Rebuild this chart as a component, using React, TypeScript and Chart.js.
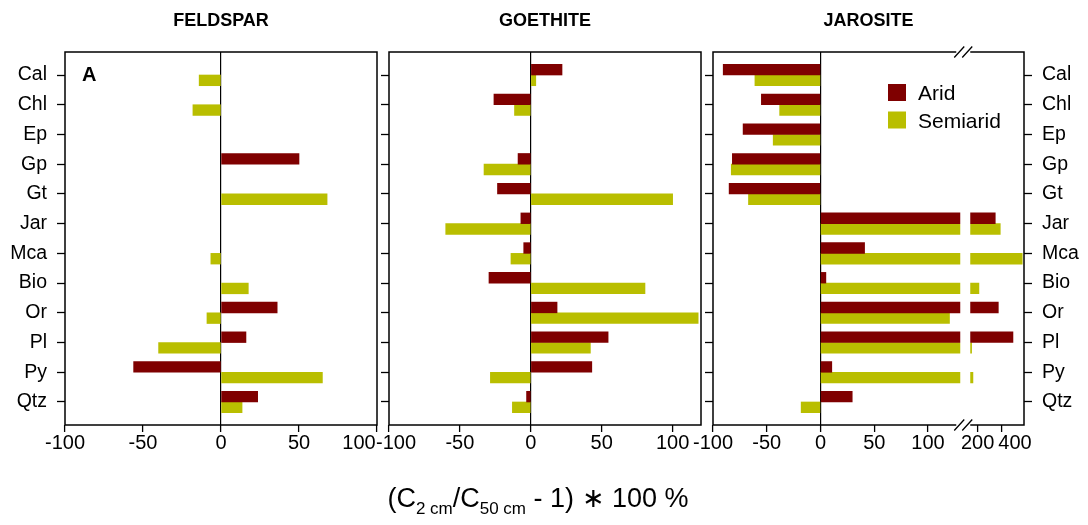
import React, { useEffect, useRef } from 'react';
import { Chart, registerables, LinearScale } from 'chart.js';

Chart.register(...registerables);

// ---------------- data ----------------
const minerals = ['Cal', 'Chl', 'Ep', 'Gp', 'Gt', 'Jar', 'Mca', 'Bio', 'Or', 'Pl', 'Py', 'Qtz'];
const seriesNames = ['Arid', 'Semiarid'];
const panelTitles = ['FELDSPAR', 'GOETHITE', 'JAROSITE'];

const feldsparArid: (number | null)[] = [null, null, null, 50, null, null, null, null, 36, 16, -56, 23.5];
const feldsparSemiarid: (number | null)[] = [-14, -18, null, null, 68, null, -6.5, 17.5, -9, -40, 65, 13.5];
const goethiteArid: (number | null)[] = [22, -26, null, -9, -23.5, -7, -5, -29.5, 18.5, 54.5, 43, -3];
const goethiteSemiarid: (number | null)[] = [3.5, -11.5, null, -33, 100, -60, -14, 80.5, 118, 42, -28.5, -13];
const jarositeArid: (number | null)[] = [-90.5, -55, -72, -82, -85, 345, 41, 5, 370, 490, 10.5, 29.5];
const jarositeSemiarid: (number | null)[] = [-61, -38, -44, -83, -67, 386, 566, 211, 120, 151, 162, -18];

const xTicksLinear = [-100, -50, 0, 50, 100];
const xTicksBroken = [-100, -50, 0, 50, 100, 200, 400];

// ---------------- styling ----------------
const ARID_COLOR = '#7F0000';
const SEMI_COLOR = '#B9BE00';
const FONT = 'Liberation Sans, Arial, Helvetica, sans-serif';
Chart.defaults.font.family = FONT;
Chart.defaults.color = '#000';

const Y_MIN = -0.774;
const Y_MAX = 11.774;

// broken axis: values up to BREAK_LO drawn linearly, gap, then compressed segment
const BREAK_LO = 130;
const BREAK_HI = 140;
const GAP_UNITS = 9.3;
const RIGHT_SCALE = 0.1135;

function fwd(v: number): number {
  if (v === null || v === undefined) return v as any;
  if (v <= BREAK_LO) return v;
  if (v >= BREAK_HI) return BREAK_LO + GAP_UNITS + (v - BREAK_HI) * RIGHT_SCALE;
  return BREAK_LO + ((v - BREAK_LO) / (BREAK_HI - BREAK_LO)) * GAP_UNITS;
}
function inv(d: number): number {
  if (d <= BREAK_LO) return d;
  if (d >= BREAK_LO + GAP_UNITS) return BREAK_HI + (d - BREAK_LO - GAP_UNITS) / RIGHT_SCALE;
  return BREAK_LO + ((d - BREAK_LO) / GAP_UNITS) * (BREAK_HI - BREAK_LO);
}

class BrokenScale extends LinearScale {
  static id = 'broken';
  getPixelForValue(value: number) {
    return super.getPixelForValue(fwd(value));
  }
  getValueForPixel(pixel: number) {
    return inv(super.getValueForPixel(pixel) as number);
  }
}
Chart.register(BrokenScale as any);

const TICK_FONT_SIZE = 20;
const TICK_PAD = -1;
const TICK_LEN = 7;

// ---------------- decoration plugin ----------------
const decorPlugin = {
  id: 'decor',
  afterDatasetsDraw(chart: any, _args: any, opts: any) {
    if (opts.gap) {
      const { ctx, chartArea } = chart;
      const xs = chart.scales.x;
      const x1 = xs.getPixelForValue(BREAK_LO);
      const x2 = xs.getPixelForValue(BREAK_HI);
      ctx.save();
      ctx.fillStyle = '#fff';
      ctx.fillRect(x1, chartArea.top + 1, x2 - x1, chartArea.bottom - chartArea.top - 2);
      ctx.restore();
    }
  },
  afterDraw(chart: any, _args: any, opts: any) {
    const { ctx, chartArea } = chart;
    const off = opts.offsetX || 0;
    const { left, right, top, bottom } = chartArea;
    const xs = chart.scales.x;
    ctx.save();
    // box
    ctx.strokeStyle = '#000';
    ctx.lineWidth = 1.5;
    ctx.strokeRect(left, top, right - left, bottom - top);

    // title
    if (opts.title) {
      ctx.fillStyle = '#000';
      ctx.font = `bold 18px ${FONT}`;
      ctx.textAlign = 'center';
      ctx.textBaseline = 'alphabetic';
      ctx.fillText(opts.title, (left + right) / 2, 26);
    }
    // panel letter
    if (opts.letter) {
      ctx.fillStyle = '#000';
      ctx.font = `bold 20px ${FONT}`;
      ctx.textAlign = 'left';
      ctx.textBaseline = 'alphabetic';
      ctx.fillText(opts.letter, 82 - off, 81);
    }
    // legend
    if (opts.legend) {
      ctx.font = `21px ${FONT}`;
      ctx.textAlign = 'left';
      ctx.textBaseline = 'alphabetic';
      chart.data.datasets.forEach((ds: any, i: number) => {
        const base = 100 + i * 27.5;
        ctx.fillStyle = ds.backgroundColor;
        ctx.fillRect(888 - off, base - 16, 18, 17);
        ctx.fillStyle = '#000';
        ctx.fillText(ds.label, 918 - off, base);
      });
    }
    // axis break marks
    if (opts.gap) {
      const cx = (xs.getPixelForValue(BREAK_LO) + xs.getPixelForValue(BREAK_HI)) / 2 - 2;
      [top, bottom].forEach((yy: number) => {
        ctx.fillStyle = '#fff';
        ctx.fillRect(cx - 7, yy - 2, 14, 4);
        ctx.strokeStyle = '#000';
        ctx.lineWidth = 1.3;
        ctx.beginPath();
        ctx.moveTo(cx - 9, yy + 5.5);
        ctx.lineTo(cx + 1, yy - 5.5);
        ctx.moveTo(cx - 1, yy + 5.5);
        ctx.lineTo(cx + 9, yy - 5.5);
        ctx.stroke();
      });
    }
    // tick labels that sit beside their tick (crowded spots)
    if (opts.shifted) {
      ctx.fillStyle = '#000';
      ctx.font = `${TICK_FONT_SIZE}px ${FONT}`;
      ctx.textAlign = 'center';
      ctx.textBaseline = 'middle';
      const ly = bottom + TICK_LEN + TICK_PAD + (TICK_FONT_SIZE * 1.2) / 2;
      opts.shifted.forEach((pair: number[]) => {
        ctx.fillText(String(pair[0]), xs.getPixelForValue(pair[0]) + pair[1], ly);
      });
    }
    // common x-axis title
    if (opts.axisTitle) {
      const main = `27px ${FONT}`;
      const sub = `17px ${FONT}`;
      const pieces: [string, string, number][] = [
        ['(C', main, 0],
        ['2 cm', sub, 7],
        ['/C', main, 0],
        ['50 cm', sub, 7],
        [' - 1) \u2217 100 %', main, 0],
      ];
      let total = 0;
      pieces.forEach(([t, f]) => {
        ctx.font = f;
        total += ctx.measureText(t).width;
      });
      let x = 538 - off - total / 2;
      ctx.fillStyle = '#000';
      ctx.textAlign = 'left';
      ctx.textBaseline = 'alphabetic';
      pieces.forEach(([t, f, dy]) => {
        ctx.font = f;
        ctx.fillText(t, x, 507 + dy);
        x += ctx.measureText(t).width;
      });
    }
    ctx.restore();
  },
};

// ---------------- config builder ----------------
function toPoints(arr: (number | null)[]) {
  const out: { x: number; y: number }[] = [];
  arr.forEach((v, i) => {
    if (v !== null) out.push({ x: v, y: i });
  });
  return out;
}

function yAxis(position: 'left' | 'right', width: number, showLabels: boolean) {
  return {
    type: 'linear',
    position,
    min: Y_MIN,
    max: Y_MAX,
    bounds: 'data',
    offset: false,
    reverse: true,
    afterBuildTicks: (s: any) => {
      s.ticks = minerals.map((_, i) => ({ value: i }));
    },
    afterFit: (s: any) => {
      s.width = width;
    },
    ticks: {
      display: showLabels,
      callback: (v: any) => minerals[v],
      font: { size: 19.5, family: FONT },
      color: '#000',
      padding: 10,
      autoSkip: false,
    },
    grid: {
      display: true,
      offset: false,
      drawOnChartArea: false,
      drawTicks: true,
      tickLength: 8,
      tickColor: '#000',
      tickWidth: 1.3,
    },
    border: { display: false },
  };
}

function makeConfig(p: any) {
  const shiftedValues: number[] = (p.decor.shifted || []).map((s: number[]) => s[0]);
  const scales: any = {
    x: {
      type: p.xType,
      min: p.xMin,
      max: p.xMax,
      bounds: 'data',
      offset: false,
      afterBuildTicks: (s: any) => {
        s.ticks = p.xTicks.map((v: number) => ({ value: v }));
      },
      afterFit: (s: any) => {
        s.height = 100;
      },
      ticks: {
        callback: (v: any) => (shiftedValues.indexOf(v) >= 0 ? '' : String(v)),
        font: { size: TICK_FONT_SIZE, family: FONT },
        color: '#000',
        padding: TICK_PAD,
        maxRotation: 0,
        minRotation: 0,
        autoSkip: false,
      },
      grid: {
        display: true,
        offset: false,
        drawOnChartArea: true,
        drawTicks: true,
        tickLength: TICK_LEN,
        color: (c: any) => (c.tick && c.tick.value === 0 ? '#000' : 'rgba(0,0,0,0)'),
        lineWidth: 1.2,
        tickColor: '#000',
        tickWidth: 1.3,
      },
      border: { display: false },
    },
    y: yAxis('left', p.yWidth, p.leftLabels),
  };
  if (p.rightLabels) scales.y2 = yAxis('right', 64, true);

  return {
    type: 'bar',
    data: {
      datasets: [
        {
          label: seriesNames[0],
          data: toPoints(p.arid),
          backgroundColor: ARID_COLOR,
          borderWidth: 0,
          yAxisID: 'y',
        },
        {
          label: seriesNames[1],
          data: toPoints(p.semi),
          backgroundColor: SEMI_COLOR,
          borderWidth: 0,
          yAxisID: 'y',
        },
      ],
    },
    options: {
      indexAxis: 'y',
      animation: false,
      responsive: false,
      devicePixelRatio: 1,
      events: [],
      layout: { padding: { top: 52, right: p.padRight, left: 0, bottom: 0 } },
      datasets: { bar: { barThickness: 10.7, grouped: true } },
      plugins: {
        legend: { display: false },
        tooltip: { enabled: false },
        title: { display: false },
        decor: p.decor,
      },
      scales,
    },
    plugins: [decorPlugin],
  } as any;
}

const panels = [
  {
    left: 0,
    width: 400,
    cfg: makeConfig({
      arid: feldsparArid,
      semi: feldsparSemiarid,
      xType: 'linear',
      xMin: -100,
      xMax: 100,
      xTicks: xTicksLinear,
      yWidth: 65,
      padRight: 23,
      leftLabels: true,
      rightLabels: false,
      decor: { title: panelTitles[0], letter: 'A', offsetX: 0, shifted: [[100, -18]] },
    }),
  },
  {
    left: 340,
    width: 400,
    cfg: makeConfig({
      arid: goethiteArid,
      semi: goethiteSemiarid,
      xType: 'linear',
      xMin: -100,
      xMax: 120,
      xTicks: xTicksLinear,
      yWidth: 49,
      padRight: 39,
      leftLabels: false,
      rightLabels: false,
      decor: { title: panelTitles[1], axisTitle: true, offsetX: 340, shifted: [[-100, 7]] },
    }),
  },
  {
    left: 670,
    width: 418,
    cfg: makeConfig({
      arid: jarositeArid,
      semi: jarositeSemiarid,
      xType: 'broken',
      xMin: -100,
      xMax: 189.3,
      xTicks: xTicksBroken,
      yWidth: 43,
      padRight: 0,
      leftLabels: false,
      rightLabels: true,
      decor: { title: panelTitles[2], legend: true, gap: true, offsetX: 670, shifted: [[400, 13]] },
    }),
  },
];

function Panel({ left, width, cfg }: { left: number; width: number; cfg: any }) {
  const ref = useRef<HTMLCanvasElement>(null);
  useEffect(() => {
    const chart = new Chart(ref.current as HTMLCanvasElement, cfg);
    return () => chart.destroy();
  }, []);
  return (
    <canvas
      ref={ref}
      width={width}
      height={525}
      style={{ position: 'absolute', left, top: 0, width, height: 525 }}
    />
  );
}

export default function App() {
  return (
    <div style={{ position: 'absolute', left: 0, top: 0, width: 1088, height: 525, background: '#fff' }}>
      {panels.map((p, i) => (
        <Panel key={i} left={p.left} width={p.width} cfg={p.cfg} />
      ))}
    </div>
  );
}
